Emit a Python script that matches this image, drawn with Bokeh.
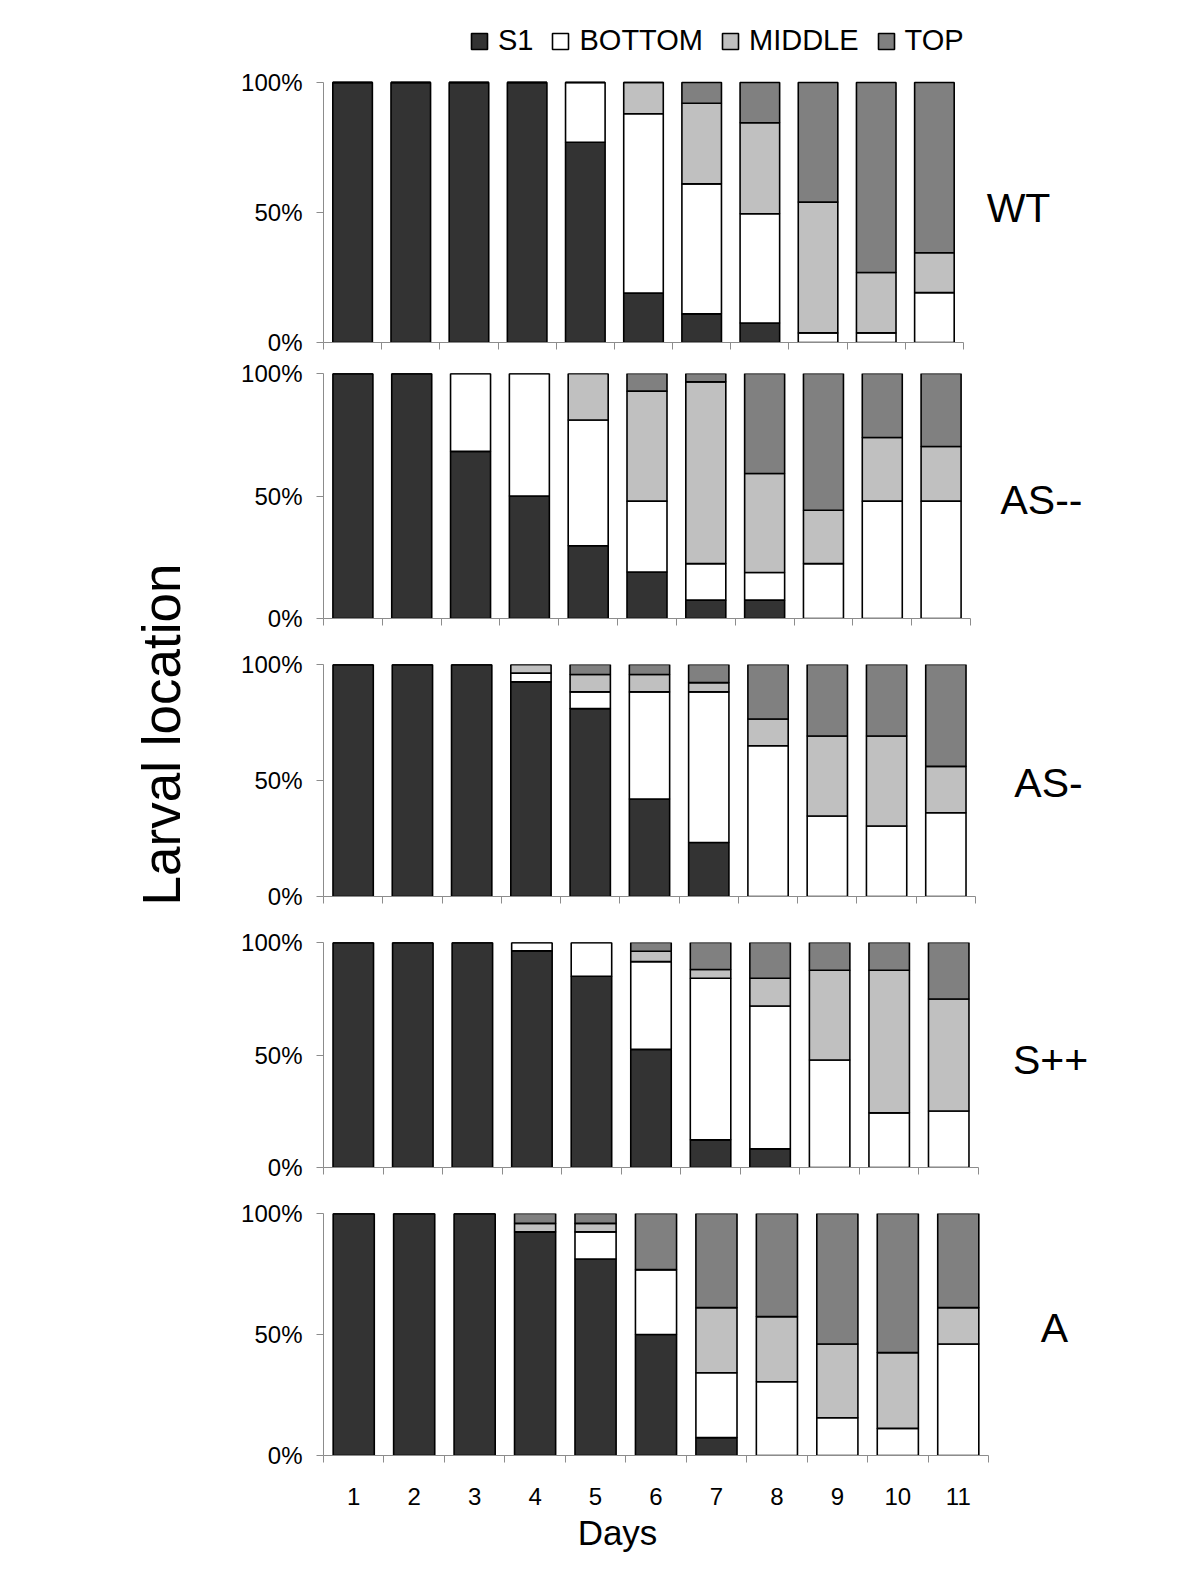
import math
from bokeh.plotting import figure
from bokeh.models import ColumnDataSource, Range1d, FixedTicker
from bokeh.layouts import row, column
from bokeh.embed import file_html
from bokeh.resources import INLINE
from bokeh.core.properties import value

# ---------------- data ----------------
days = [1, 2, 3, 4, 5, 6, 7, 8, 9, 10, 11]
x_tick_labels = ["1", "2", "3", "4", "5", "6", "7", "8", "9", "10", "11"]
y_ticks = [0, 50, 100]
y_tick_labels = ["0%", "50%", "100%"]
stages = ["S1", "BOTTOM", "MIDDLE", "TOP"]
panel_names = ["WT", "AS--", "AS-", "S++", "A"]
x_title = "Days"
y_title = "Larval location"

wt_s1 = [100, 100, 100, 100, 77, 19, 11, 7.5, 0, 0, 0]
wt_bottom = [0, 0, 0, 0, 23, 69, 50, 42, 3.7, 3.7, 19.2]
wt_middle = [0, 0, 0, 0, 0, 12, 31, 35, 50.3, 23.2, 15.3]
wt_top = [0, 0, 0, 0, 0, 0, 8, 15.5, 46, 73.1, 65.5]

asmm_s1 = [100, 100, 68.2, 50, 29.7, 19, 7.5, 7.5, 0, 0, 0]
asmm_bottom = [0, 0, 31.8, 50, 51.3, 28.9, 14.9, 11.3, 22.4, 47.9, 47.9]
asmm_middle = [0, 0, 0, 0, 19, 44.9, 74.2, 40.4, 21.8, 26, 22.3]
asmm_top = [0, 0, 0, 0, 0, 7.2, 3.4, 40.8, 55.8, 26.1, 29.8]

asm_s1 = [100, 100, 100, 92.5, 81, 42, 23.3, 0, 0, 0, 0]
asm_bottom = [0, 0, 0, 3.8, 7.2, 46.2, 64.9, 65, 34.7, 30.4, 36.1]
asm_middle = [0, 0, 0, 3.7, 7.5, 7.5, 4, 11.5, 34.5, 38.8, 20]
asm_top = [0, 0, 0, 0, 4.3, 4.3, 7.8, 23.5, 30.8, 30.8, 43.9]

spp_s1 = [100, 100, 100, 96.3, 85, 52.5, 12.3, 8.3, 0, 0, 0]
spp_bottom = [0, 0, 0, 3.7, 15, 39, 71.8, 63.5, 47.8, 24.3, 25.1]
spp_middle = [0, 0, 0, 0, 0, 4.6, 3.9, 12.3, 39.9, 63.4, 49.8]
spp_top = [0, 0, 0, 0, 0, 3.9, 12, 15.9, 12.3, 12.3, 25.1]

a_s1 = [100, 100, 100, 92.4, 81.2, 50, 7.4, 0, 0, 0, 0]
a_bottom = [0, 0, 0, 0, 11.2, 26.8, 26.8, 30.5, 15.6, 11.2, 46.1]
a_middle = [0, 0, 0, 3.5, 3.5, 0, 26.9, 26.9, 30.5, 31.3, 15]
a_top = [0, 0, 0, 4.1, 4.1, 23.2, 38.9, 42.6, 53.9, 57.5, 38.9]

panels_data = [
    (wt_s1, wt_bottom, wt_middle, wt_top),
    (asmm_s1, asmm_bottom, asmm_middle, asmm_top),
    (asm_s1, asm_bottom, asm_middle, asm_top),
    (spp_s1, spp_bottom, spp_middle, spp_top),
    (a_s1, a_bottom, a_middle, a_top),
]

# ---------------- style / layout (page pixels) ----------------
colors = ["#333333", "#ffffff", "#c0c0c0", "#808080"]
FONT = "Liberation Sans"
AXIS_GRAY = "#8c8c8c"
LEFT_W = 200
COL_X = LEFT_W
COL_W = 996
FRAME_LEFT = 323        # plots in a column share the same frame edges
FRAME_RIGHT = 1120
# fig_top, fig_bottom, y(100%), y(0%), x(right boundary of day 11)
geo = [
    (0, 356, 82, 342, 963),
    (356, 640, 373, 618, 970),
    (640, 920, 664, 896, 975),
    (920, 1190, 942, 1167, 978),
    (1190, 1514, 1213, 1455, 988),
]
DAYS_FIG = (1514, 1580)
days_px = (617, 1532)
label_px = [(1018, 207), (1041, 499), (1048, 782), (1050, 1059), (1054, 1327)]
ylabel_px = (161, 734)
legend_px = (469, 57)   # left edge of first swatch / bottom of legend row
TOTAL_H = DAYS_FIG[1]
BORDER_L = FRAME_LEFT - COL_X
BORDER_R = COL_X + COL_W - FRAME_RIGHT

bounds = [d - 0.5 for d in days] + [days[-1] + 0.5]


def make_panel(i):
    ft, fb, y100, y0, dr = geo[i]
    top_px = 12 if i == 0 else y100
    ppu = (dr - FRAME_LEFT) / len(days)
    ppp = (y0 - y100) / 100.0
    xr = Range1d(0.5, 0.5 + (FRAME_RIGHT - FRAME_LEFT) / ppu)
    yr = Range1d(0, 100 + (y100 - top_px) / ppp)
    p = figure(width=COL_W, height=fb - ft, x_range=xr, y_range=yr,
               output_backend="svg", toolbar_location=None,
               min_border_left=BORDER_L, min_border_right=BORDER_R,
               min_border_top=top_px - ft, min_border_bottom=fb - y0)
    p.outline_line_color = None
    p.grid.visible = False
    p.background_fill_color = "white"

    s1, bo, mi, to = panels_data[i]
    src = ColumnDataSource(dict(day=days, S1=s1, BOTTOM=bo, MIDDLE=mi, TOP=to))
    kw = dict(legend_label=stages) if i == 0 else {}
    p.vbar_stack(stages, x="day", width=0.68, color=colors, source=src,
                 line_color="black", line_width=1.6, **kw)

    # y axis
    ya = p.yaxis[0]
    ya.ticker = FixedTicker(ticks=y_ticks, minor_ticks=[])
    ya.major_label_overrides = {t: l for t, l in zip(y_ticks, y_tick_labels)}
    ya.bounds = (0, 100)
    ya.axis_line_color = AXIS_GRAY
    ya.major_tick_line_color = AXIS_GRAY
    ya.major_tick_out = 7
    ya.major_tick_in = 0
    ya.major_label_standoff = 14
    ya.major_label_text_font = FONT
    ya.major_label_text_font_size = "24px"
    ya.major_label_text_color = "black"

    # x axis
    xa = p.xaxis[0]
    xa.bounds = (0.5, days[-1] + 0.5)
    xa.axis_line_color = AXIS_GRAY
    xa.major_tick_out = 0
    xa.major_tick_in = 0
    xa.minor_tick_line_color = AXIS_GRAY
    xa.minor_tick_out = 7
    xa.minor_tick_in = 0
    if i == len(geo) - 1:
        xa.ticker = FixedTicker(ticks=days, minor_ticks=bounds)
        xa.major_tick_line_color = None
        xa.major_label_overrides = {d: l for d, l in zip(days, x_tick_labels)}
        xa.major_label_text_font = FONT
        xa.major_label_text_font_size = "24px"
        xa.major_label_text_color = "black"
        xa.major_label_standoff = 25
    else:
        xa.ticker = FixedTicker(ticks=[], minor_ticks=bounds)
        xa.major_label_standoff = 0

    # panel name
    lx, ly = label_px[i]
    p.text(x=[0.5 + (lx - FRAME_LEFT) / ppu], y=[(y0 - ly) / ppp], text=[panel_names[i]],
           text_font=value(FONT), text_font_size="41px", text_color="black",
           text_align="center", text_baseline="middle")

    if i == 0:
        lg = p.legend[0]
        lg.orientation = "horizontal"
        lg.location = (legend_px[0] - FRAME_LEFT, y0 - legend_px[1])
        lg.glyph_width = 20
        lg.glyph_height = 20
        lg.label_standoff = 9
        lg.spacing = 17
        lg.padding = 0
        lg.margin = 0
        lg.border_line_color = None
        lg.background_fill_alpha = 0
        lg.label_text_font = FONT
        lg.label_text_font_size = "29px"
        lg.label_text_color = "black"
        lg.label_height = 30
    return p


def text_fig(width, height, x0, x1, bl, br):
    # ranges in page pixels so the text lands where it is meant to be
    f = figure(width=width, height=height, x_range=Range1d(x0, x1),
               y_range=Range1d(0, height), output_backend="svg",
               toolbar_location=None, x_axis_location=None, y_axis_location=None,
               min_border=0, min_border_left=bl, min_border_right=br)
    f.outline_line_color = None
    f.grid.visible = False
    return f


panels = [make_panel(i) for i in range(len(geo))]

dh = DAYS_FIG[1] - DAYS_FIG[0]
days_fig = text_fig(COL_W, dh, FRAME_LEFT, FRAME_RIGHT, BORDER_L, BORDER_R)
days_fig.text(x=[days_px[0]], y=[dh - (days_px[1] - DAYS_FIG[0])], text=[x_title],
              text_font=value(FONT), text_font_size="35px", text_color="black",
              text_align="center", text_baseline="middle")

left = text_fig(LEFT_W, TOTAL_H, 0, LEFT_W, 0, 0)
left.text(x=[ylabel_px[0]], y=[TOTAL_H - ylabel_px[1]], text=[y_title],
          angle=math.pi / 2, text_font=value(FONT), text_font_size="53px",
          text_color="black", text_align="center", text_baseline="middle")

layout = row(left, column(*panels, days_fig, spacing=0), spacing=0)

html = file_html(layout, INLINE, "Larval location")
with open("out.html", "w") as f:
    f.write(html)
